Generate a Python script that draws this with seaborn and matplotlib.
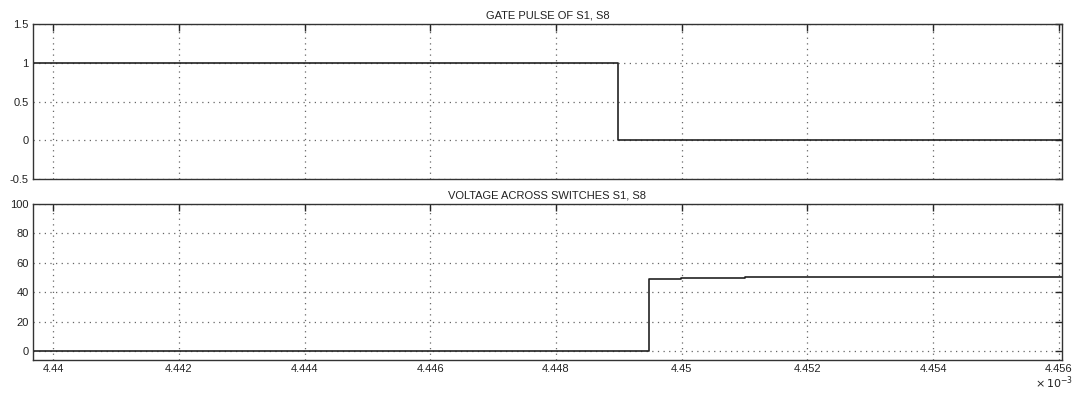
"""
plot.py - gate pulse and switch voltage of S1, S8 (scope style)
"""

import matplotlib
matplotlib.use("Agg")
import matplotlib.pyplot as plt
import seaborn as sns
import pandas as pd

# ── Data ─────────────────────────────────────────────────────────────────────
gate_time = [4.4396e-3, 4.44899e-3, 4.44899e-3, 4.45606e-3]
gate_value = [1, 1, 0, 0]

volt_time = [4.4396e-3, 4.44948e-3, 4.44948e-3, 4.44999e-3, 4.44999e-3,
             4.45100e-3, 4.45100e-3, 4.45606e-3]
volt_value = [0.3, 0.3, 49.2, 49.2, 49.8, 49.8, 50.3, 50.3]

x_ticks = [4.440e-3, 4.442e-3, 4.444e-3, 4.446e-3, 4.448e-3,
           4.450e-3, 4.452e-3, 4.454e-3, 4.456e-3]
x_tick_labels = ["4.44", "4.442", "4.444", "4.446", "4.448",
                 "4.45", "4.452", "4.454", "4.456"]
gate_yticks = [-0.5, 0, 0.5, 1, 1.5]
gate_ylabels = ["-0.5", "0", "0.5", "1", "1.5"]
volt_yticks = [0, 20, 40, 60, 80, 100]

titles = ["GATE PULSE OF S1, S8", "VOLTAGE ACROSS SWITCHES S1, S8"]

sns.set_style("white")
plt.rcParams["font.family"] = ["Liberation Sans", "DejaVu Sans"]

gate_df = pd.DataFrame({"t": gate_time, "v": gate_value})
volt_df = pd.DataFrame({"t": volt_time, "v": volt_value})

fig = plt.figure(figsize=(10.76, 3.98), dpi=100)
ax1 = fig.add_axes([33 / 1076, 1 - 179 / 398, 1029 / 1076, 155 / 398])
ax2 = fig.add_axes([33 / 1076, 1 - 360 / 398, 1029 / 1076, 156 / 398])

sns.lineplot(data=gate_df, x="t", y="v", ax=ax1, color="#222222",
             linewidth=1.2, estimator=None, sort=False)
sns.lineplot(data=volt_df, x="t", y="v", ax=ax2, color="#222222",
             linewidth=1.2, estimator=None, sort=False)

xlim = (4.43968e-3, 4.45605e-3)
for ax, title in zip([ax1, ax2], titles):
    ax.set_xlim(*xlim)
    ax.set_xticks(x_ticks)
    ax.grid(True, linestyle=(0, (1, 3.5)), color="#666666", linewidth=0.9)
    ax.set_xlabel("")
    ax.set_ylabel("")
    ax.set_title(title, fontsize=8, color="#222222", pad=4)
    ax.tick_params(direction="in", length=5, width=1.0, top=True, right=True,
                   labelsize=8, labelcolor="#222222", pad=3)
    for spine in ax.spines.values():
        spine.set_visible(True)
        spine.set_edgecolor("#333333")
        spine.set_linewidth(1.0)

ax1.set_ylim(-0.5, 1.5)
ax1.set_yticks(gate_yticks)
ax1.set_yticklabels(gate_ylabels)
ax1.set_xticklabels([])

ax2.set_ylim(-6, 100)
ax2.set_yticks(volt_yticks)
ax2.set_xticklabels(x_tick_labels)

fig.text(1054 / 1076, 1 - 391 / 398, r"$\times\,10^{-3}$", fontsize=8,
         color="#222222", ha="center", va="bottom")

plt.savefig("out.png", dpi=100, facecolor="white")
plt.close()
